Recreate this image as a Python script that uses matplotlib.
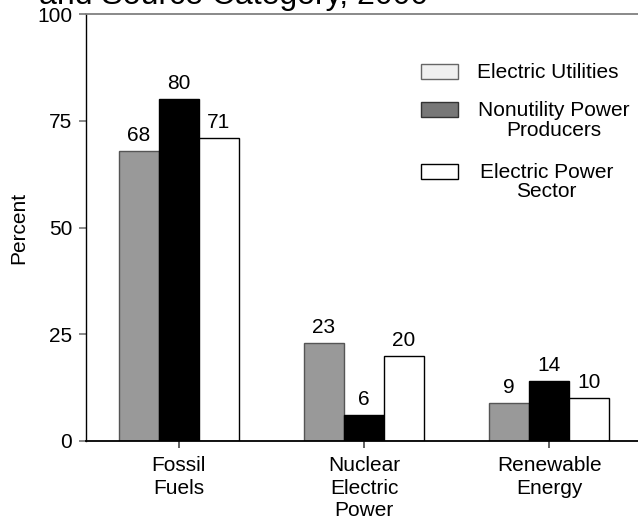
import matplotlib
matplotlib.use("Agg")
import matplotlib.pyplot as plt
from matplotlib.patches import Rectangle
import numpy as np

plt.rcParams['font.family'] = ['Liberation Sans', 'DejaVu Sans']

title = "and Source Category, 2000"
categories = ["Fossil\nFuels", "Nuclear\nElectric\nPower", "Renewable\nEnergy"]
series_names = ["Electric Utilities", "Nonutility Power\nProducers", "Electric Power\nSector"]
utilities = [68, 23, 9]
nonutility = [80, 6, 14]
sector = [71, 20, 10]
yticks = [0, 25, 50, 75, 100]

W, H = 638, 521
fig = plt.figure(figsize=(W / 100, H / 100), dpi=100)
ax = fig.add_axes([86 / W, (H - 441) / H, (642 - 86) / W, (441 - 14) / H])

x = np.arange(len(categories))
bw = 0.216
bar_styles = [
    dict(color="#999999", edgecolor="#555555"),
    dict(color="#000000", edgecolor="#000000"),
    dict(color="#ffffff", edgecolor="#000000"),
]
for k, vals in enumerate([utilities, nonutility, sector]):
    xs = x + (k - 1) * bw
    ax.bar(xs, vals, width=bw, linewidth=1.0, zorder=2, **bar_styles[k])
    for xi, v in zip(xs, vals):
        ax.annotate(f"{v}", (xi, v), xytext=(0, 7.2), textcoords="offset points",
                    ha="center", va="baseline", fontsize=15)

ax.set_xlim(-0.5, 2.5)
ax.set_ylim(0, 100)
ax.set_yticks(yticks)
ax.set_yticklabels([str(t) for t in yticks])
ax.set_xticks(x)
ax.set_xticklabels(categories, linespacing=1.22)
ax.tick_params(axis="y", length=5, width=1.3, color="#808080", pad=5, labelsize=15)
ax.tick_params(axis="x", length=5, width=1.3, color="#555555", pad=6, labelsize=15)
ax.set_ylabel("Percent", fontsize=15, labelpad=6)

ax.spines["right"].set_visible(False)
ax.spines["top"].set_color("#808080")
ax.spines["top"].set_linewidth(1.3)
ax.spines["left"].set_color("#000000")
ax.spines["left"].set_linewidth(1.0)
ax.spines["bottom"].set_color("#000000")
ax.spines["bottom"].set_linewidth(1.3)

# Title (partially cut at top as in the reference)
fig.text(39 / W, 1 - 4 / H, title, fontsize=23, ha="left", va="baseline")

# Manual legend
leg_colors = [("#f0f0f0", "#666666"), ("#777777", "#333333"), ("#ffffff", "#000000")]
swatch_top = [64, 102, 164]
text_left = [477, 478, 480]
for name, (fc, ec), top, tl in zip(series_names, leg_colors, swatch_top, text_left):
    fig.add_artist(Rectangle((421 / W, 1 - (top + 15) / H), 37 / W, 15 / H,
                             transform=fig.transFigure, facecolor=fc,
                             edgecolor=ec, linewidth=1.0))
    fig.text(tl / W, 1 - (top - 0.5) / H, name, fontsize=15, ha="left",
             va="top", multialignment="center", linespacing=1.0)

fig.savefig("out.png", dpi=100)
